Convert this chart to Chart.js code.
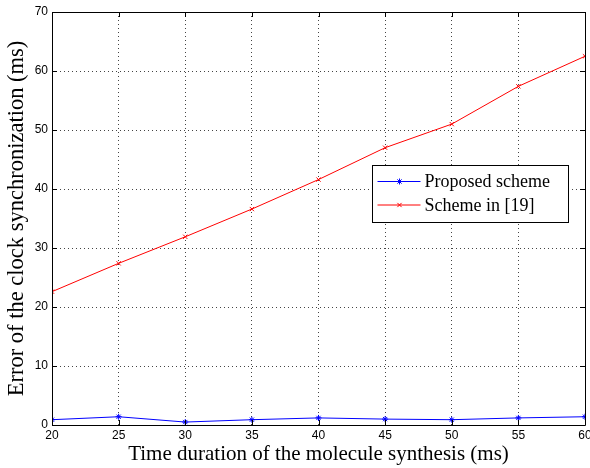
<!DOCTYPE html>
<html>
<head>
<meta charset="utf-8">
<script src="https://cdn.jsdelivr.net/npm/chart.js@4"></script>
<style>
  html, body { margin: 0; padding: 0; background: #fff; }
  #wrap { width: 590px; height: 468px; }
</style>
</head>
<body>
<div id="wrap"><canvas id="myChart" width="590" height="468"></canvas></div>
<script>
// data
const durations = [20, 25, 30, 35, 40, 45, 50, 55, 60]
const proposedErr = [0.9, 1.4, 0.5, 0.9, 1.2, 1.0, 0.9, 1.2, 1.4]
const scheme19Err = [22.6, 27.4, 31.9, 36.6, 41.6, 47.0, 51.0, 57.4, 62.5]
const xTicks = [20, 25, 30, 35, 40, 45, 50, 55, 60]
const yTicks = [0, 10, 20, 30, 40, 50, 60, 70]
const seriesNames = ['Proposed scheme', 'Scheme in [19]']

const toPoints = (ys) => durations.map((x, i) => ({ x: x, y: ys[i] }))

// box around the axes + inward ticks, matlab style
const framePlugin = {
  id: 'frame',
  afterDraw (chart) {
    const ctx = chart.ctx
    const a = chart.chartArea
    const xs = chart.scales.x
    const ys = chart.scales.y
    ctx.save()
    ctx.strokeStyle = '#000'
    ctx.lineWidth = 1
    ctx.beginPath()
    ctx.rect(Math.round(a.left) + 0.5, Math.round(a.top) + 0.5, Math.round(a.right - a.left), Math.round(a.bottom - a.top))
    ctx.stroke()
    ctx.beginPath()
    xTicks.forEach(v => {
      const px = Math.round(xs.getPixelForValue(v)) + 0.5
      ctx.moveTo(px, a.bottom); ctx.lineTo(px, a.bottom - 5)
      ctx.moveTo(px, a.top); ctx.lineTo(px, a.top + 5)
    })
    yTicks.forEach(v => {
      const py = Math.round(ys.getPixelForValue(v)) + 0.5
      ctx.moveTo(a.left, py); ctx.lineTo(a.left + 5, py)
      ctx.moveTo(a.right, py); ctx.lineTo(a.right - 5, py)
    })
    ctx.stroke()
    ctx.restore()
  }
}

// legend drawn inside the plot
const boxLegend = {
  id: 'boxLegend',
  afterDraw (chart) {
    const ctx = chart.ctx
    const left = 372.5
    const top = 165.5
    const w = 196
    const h = 57
    ctx.save()
    ctx.fillStyle = '#fff'
    ctx.fillRect(left, top, w, h)
    ctx.strokeStyle = '#000'
    ctx.lineWidth = 1
    ctx.strokeRect(left, top, w, h)
    chart.data.datasets.forEach((ds, i) => {
      const y = top + 16 + i * 23.5
      ctx.strokeStyle = ds.borderColor
      ctx.beginPath()
      ctx.moveTo(left + 5, y); ctx.lineTo(left + 48, y)
      ctx.stroke()
      Chart.helpers.drawPoint(ctx, { pointStyle: ds.pointStyle, radius: 3, borderWidth: 1 }, left + 27, y)
      ctx.fillStyle = '#000'
      ctx.font = '18px "Liberation Serif", "Times New Roman", serif'
      ctx.textBaseline = 'middle'
      ctx.fillText(ds.label, left + 52, y + 1)
    })
    ctx.restore()
  }
}

const ctx = document.getElementById('myChart').getContext('2d')
const myChart = new Chart(ctx, {
  type: 'line',
  data: {
    datasets: [{
      label: seriesNames[0],
      data: toPoints(proposedErr),
      borderColor: '#0000ff',
      backgroundColor: '#0000ff',
      borderWidth: 1,
      pointStyle: 'star',
      pointRadius: 3,
      pointBorderWidth: 1,
      tension: 0
    }, {
      label: seriesNames[1],
      data: toPoints(scheme19Err),
      borderColor: '#ff0000',
      backgroundColor: '#ff0000',
      borderWidth: 1,
      pointStyle: 'crossRot',
      pointRadius: 3,
      pointBorderWidth: 1,
      tension: 0
    }]
  },
  options: {
    responsive: false,
    animation: false,
    layout: { padding: { top: 12, right: 5, left: 0, bottom: 0 } },
    plugins: {
      legend: { display: false },
      tooltip: { enabled: false }
    },
    scales: {
      x: {
        type: 'linear',
        min: 20,
        max: 60,
        afterBuildTicks: (s) => { s.ticks = xTicks.map(v => ({ value: v })) },
        afterFit: (s) => { s.paddingRight = 0; s.height = 43 },
        ticks: {
          color: '#000',
          padding: 3,
          maxRotation: 0,
          font: { family: '"Liberation Sans", Arial, sans-serif', size: 12 }
        },
        grid: {
          color: '#444',
          lineWidth: 1,
          drawTicks: false
        },
        border: { display: false, dash: [1, 3] },
        title: {
          display: true,
          text: 'Time duration of the molecule synthesis (ms)',
          color: '#000',
          padding: { top: 0, bottom: 1 },
          font: { family: '"Liberation Serif", "Times New Roman", serif', size: 21 }
        }
      },
      y: {
        min: 0,
        max: 70,
        afterBuildTicks: (s) => { s.ticks = yTicks.map(v => ({ value: v })) },
        afterFit: (s) => { s.width = 52 },
        ticks: {
          color: '#000',
          padding: 4,
          font: { family: '"Liberation Sans", Arial, sans-serif', size: 12 }
        },
        grid: {
          color: '#444',
          lineWidth: 1,
          drawTicks: false
        },
        border: { display: false, dash: [1, 3] },
        title: {
          display: true,
          text: 'Error of the clock synchronization (ms)',
          color: '#000',
          padding: { top: 4, bottom: 2 },
          font: { family: '"Liberation Serif", "Times New Roman", serif', size: 22.5 }
        }
      }
    }
  },
  plugins: [framePlugin, boxLegend]
})
</script>
</body>
</html>
